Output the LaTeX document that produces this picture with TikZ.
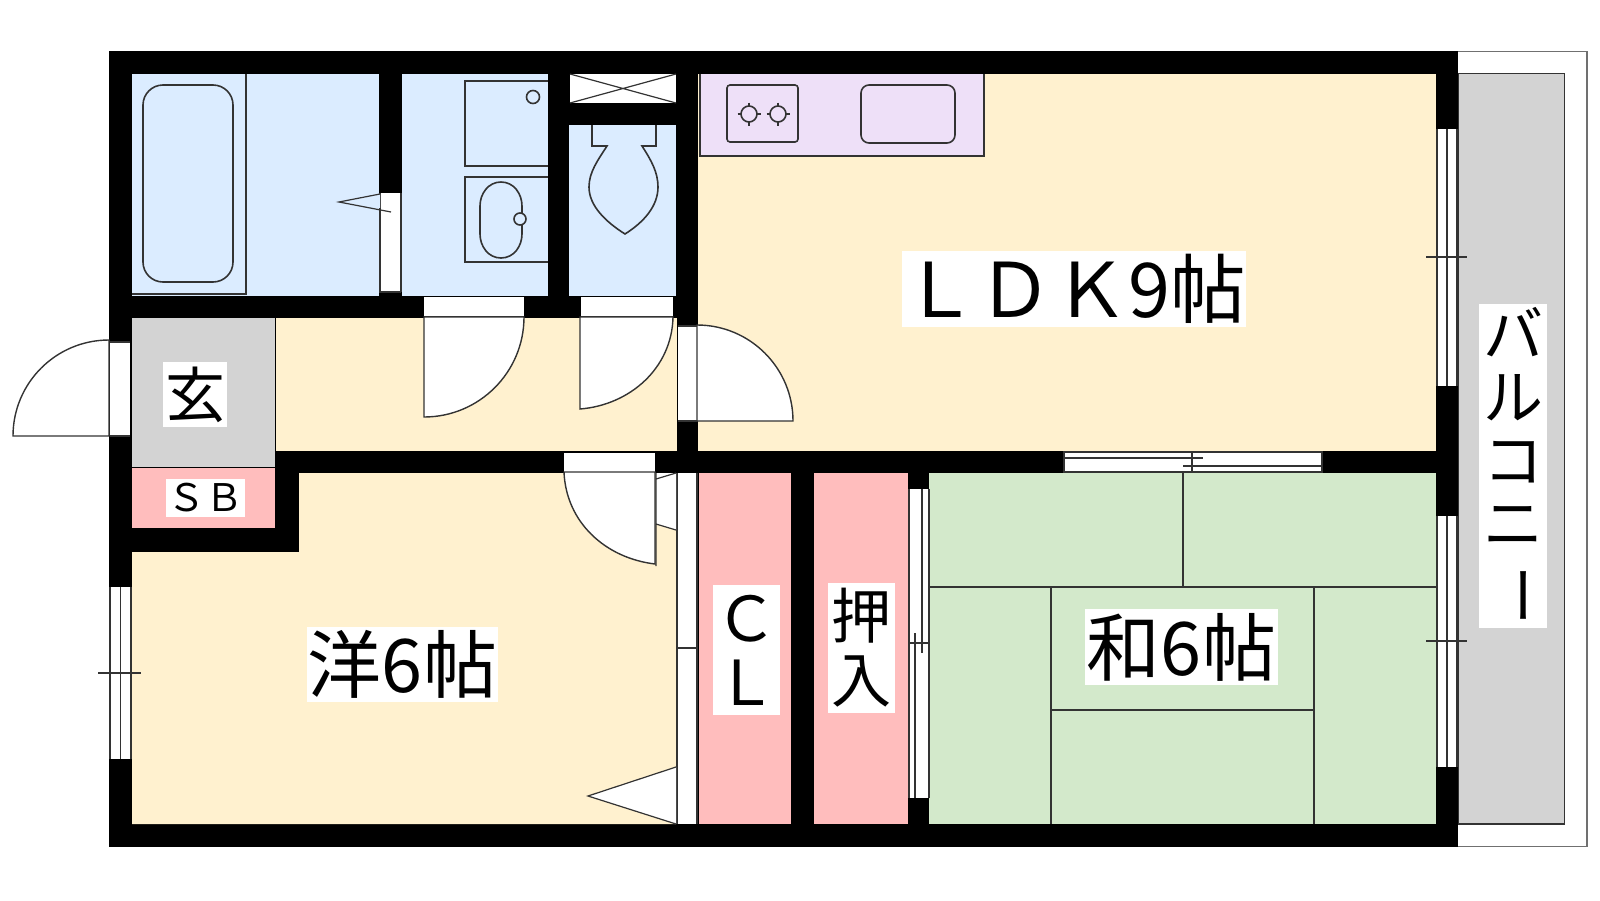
\documentclass[tikz,border=0pt]{standalone}
\usepackage{fontspec}
\setmainfont{Noto Sans CJK JP}
\definecolor{wblue}{HTML}{DBECFF}
\definecolor{wyel}{HTML}{FFF1CF}
\definecolor{wgrey}{HTML}{D3D3D3}
\definecolor{wpink}{HTML}{FFBDBD}
\definecolor{wgreen}{HTML}{D3E9CB}
\definecolor{wlil}{HTML}{EEE0F8}
\definecolor{ln}{HTML}{333333}
\tikzset{
  x=1pt,y=-1pt,
  fix/.style={line width=1.6pt,draw=ln},
  thin fix/.style={line width=1.2pt,draw=ln},
  swing/.style={fill=white,draw=ln,line width=1.4pt},
  lab/.style={fill=white,inner sep=0pt,align=center,text=black,anchor=center},
}
\newcommand{\rr}[5]{\fill[#5] (#1,#2) rectangle (#3,#4);}
\begin{document}
\begin{tikzpicture}
\useasboundingbox (0,0) rectangle (1600,900);
\fill[white] (0,0) rectangle (1600,900);
% balcony
\draw[line width=1.4pt,draw=ln!70] (1458,51.5) -- (1587,51.5) -- (1587,846.5) -- (1458,846.5);
\fill[wgrey,draw=ln,line width=1.4pt] (1458,73.5) rectangle (1564.5,824);
% walls
\fill[black] (109,51) rectangle (1458,847);
% rooms
\rr{132}{74}{379}{296}{wblue}
\rr{402}{74}{548}{296}{wblue}
\rr{569}{125}{676}{296}{wblue}
\rr{698}{74}{1436}{451}{wyel}
\fill[wyel] (276,318) rectangle (677,451);
\fill[wgrey] (132,318) rectangle (275,467);
\fill[wpink] (132,468) rectangle (275,528);
\fill[wyel] (132,552) -- (299,552) -- (299,473) -- (676,473) -- (676,824) -- (132,824) -- cycle;
\rr{699}{473}{791}{824}{wpink}
\rr{814}{473}{908}{824}{wpink}
\rr{929}{473}{1436}{824}{wgreen}
% vent
\fill[white] (570,74) rectangle (676,103);
\draw[thin fix] (570,74) -- (676,103) (570,103) -- (676,74);
% kitchen
\fill[wlil,draw=ln,line width=1.2pt] (700,74) -- (700,156) -- (984,156) -- (984,74);
\draw[fix,rounded corners=3pt] (727,85) rectangle (798,142);
\draw[fix,rounded corners=8pt] (861,85) rectangle (955,143);
\foreach \cx in {749,778}{
  \draw[fix] (\cx,114) circle (8);
  \draw[fix] (\cx-11.5,114) -- (\cx-8,114) (\cx+8,114) -- (\cx+11.5,114) (\cx,102.5) -- (\cx,106) (\cx,122) -- (\cx,125.5);
}
% bath
\draw[line width=1.4pt,draw=ln] (132,294) -- (246,294) -- (246,74);
\draw[fix,rounded corners=20pt] (143,85) rectangle (233,282);
\fill[white] (380,193) rectangle (401,292);
\draw[thin fix] (380,193) -- (380,292) -- (401,292) (401,193) -- (401,292);
\fill[wblue] (339,202) -- (380,194) -- (380,208) -- cycle;
\draw[thin fix] (380,194) -- (339,202) -- (391,212);
% wash
\draw[fix] (548,81) -- (465,81) -- (465,166) -- (548,166);
\draw[fix] (533,97) circle (6.5);
\draw[fix] (548,177) -- (465,177) -- (465,262) -- (548,262);
\draw[fix] (501,182) .. controls (514,182) and (522,194) .. (522,206) -- (522,234)
  .. controls (522,246) and (514,258) .. (501,258) .. controls (488,258) and (480,246) .. (480,234)
  -- (480,206) .. controls (480,194) and (488,182) .. (501,182) -- cycle;
\draw[fix,fill=wblue] (520,219) circle (6);
% toilet
\draw[fix] (592,125) -- (592,146) -- (607,146) .. controls (598,160) and (589,172) .. (589,187)
  .. controls (589,206) and (606,222) .. (625,234) .. controls (644,222) and (658,206) .. (658,187)
  .. controls (658,172) and (651,160) .. (642,146) -- (656,146) -- (656,125);
% door openings
\fill[white] (424,297) rectangle (524,317);
\fill[white] (581,297) rectangle (673,317);
\fill[white] (678,326) rectangle (697,421);
\fill[white] (564,453) rectangle (655,472);
\draw[thin fix] (424,317) -- (524,317) (581,317) -- (673,317) (564,472.5) -- (655,472.5);
\draw[thin fix] (697,326) -- (678,326) (678,421) -- (697,421);
% swings
\draw[swing] (424,317) -- (424,417) arc[start angle=90,end angle=0,radius=100] -- cycle;
\draw[swing] (580,317) -- (580,409) .. controls (630,405) and (672,368) .. (673,317) -- cycle;
\draw[swing] (697,421) -- (793,421) arc[start angle=0,end angle=-90,radius=96] -- cycle;
\draw[swing] (655,472) -- (655,564) .. controls (605,558) and (566,522) .. (564,472) -- cycle;
% closet door
\fill[white] (678,473) rectangle (697,824);
\draw[thin fix] (677,473) -- (677,824) (697,473) -- (697,824) (677,648) -- (697,648);
\fill[white] (656,473) -- (676,473) -- (676,530) -- (656,524) -- cycle;
\draw[thin fix] (656,479) -- (676,473) (656,524) -- (676,530) (656,473) -- (656,566);
\fill[white,draw=ln,line width=1.2pt] (676,767) -- (588,796) -- (676,824);
% entrance door
\fill[white] (110,342) rectangle (130,436);
\draw[swing] (109,436) -- (13,436) arc[start angle=180,end angle=270,radius=96] -- cycle;
\draw[thin fix] (109.5,342) -- (130,342);
\draw[thin fix] (109.5,436) -- (130,436);
% left window
\fill[white] (110,587) rectangle (131,759);
\draw[thin fix] (110,587) -- (110,759) (120.5,587) -- (120.5,759) (131,587) -- (131,759);
\draw[thin fix] (98,673) -- (141,673);
% right windows
\foreach \a/\b/\t in {129/386/257,516/767/641}{
  \fill[white] (1437,\a) rectangle (1457,\b);
  \draw[thin fix] (1437,\a) -- (1437,\b) (1447,\a) -- (1447,\b) (1457,\a) -- (1457,\b);
  \draw[thin fix] (1426,\t) -- (1467,\t);
}
% LDK/tatami sliding window
\fill[white] (1064,452) rectangle (1322,472);
\draw[thin fix] (1064,452) rectangle (1322,472);
\draw[thin fix] (1064,458) -- (1203,458) (1183,466) -- (1322,466) (1192,452) -- (1192,472);
% oshiire window
\fill[white] (909,489) rectangle (929,798);
\draw[thin fix] (909,489) -- (909,798) (929,489) -- (929,798);
\draw[thin fix] (915,633) -- (915,798) (922,489) -- (922,653) (909,643) -- (929,643);
% tatami
\draw[fix] (1183,473) -- (1183,587) (929,587) -- (1436,587) (1051,587) -- (1051,824) (1314,587) -- (1314,824) (1051,710) -- (1314,710);
% labels
\node[lab,minimum width=344pt,minimum height=76pt,font=\fontsize{75.5}{76}\selectfont] (ldk) at (1074,289) {ＬＤＫ9帖};
\node[lab,minimum width=191pt,minimum height=75pt,font=\fontsize{74}{76}\selectfont] (yo) at (402.5,664.5) {洋6帖};
\node[lab,minimum width=193pt,minimum height=76pt,font=\fontsize{74}{76}\selectfont] (wa) at (1181.5,647) {和6帖};
\node[lab,minimum width=64pt,minimum height=65pt,font=\fontsize{60}{60}\selectfont] (gen) at (195,394.5) {玄};
\node[lab,minimum width=79pt,minimum height=38pt,font=\fontsize{38}{38}\selectfont] (sb) at (205.5,498) {ＳＢ};
\node[lab,minimum width=67pt,minimum height=130pt,font=\fontsize{62}{64}\selectfont] (cl) at (746.5,650) {Ｃ\\Ｌ};
\node[lab,minimum width=67pt,minimum height=130pt,font=\fontsize{60}{64}\selectfont] (osh) at (861.5,648) {押\\入};
\node[lab,minimum width=68pt,minimum height=324pt,font=\fontsize{60}{63}\selectfont] (bal) at (1513,466) {バ\\ル\\コ\\ニ\\\rotatebox[origin=c]{-90}{ー}};
\end{tikzpicture}
\end{document}
